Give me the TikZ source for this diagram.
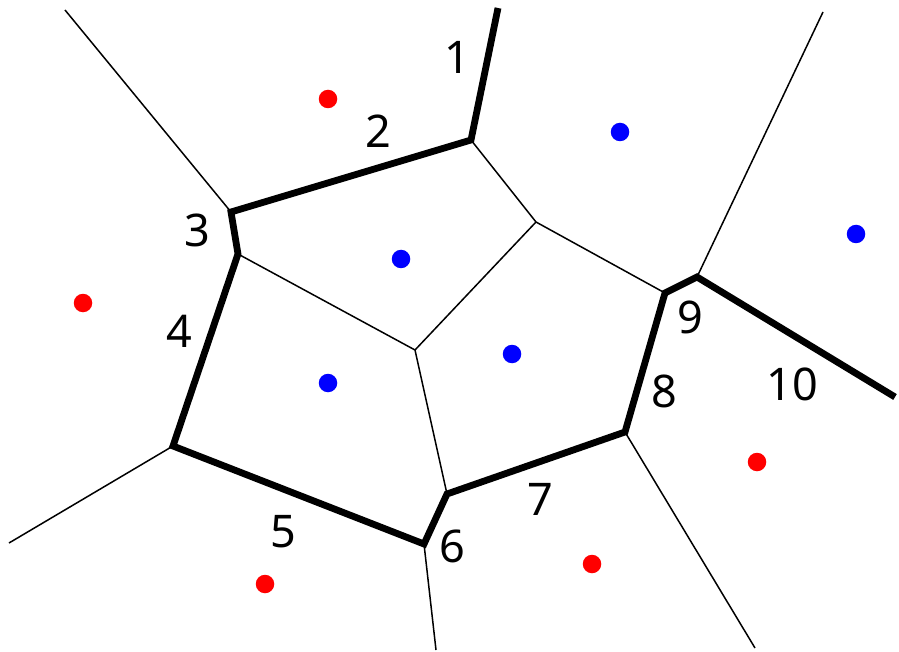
\documentclass[tikz,border=0pt]{standalone}
\usepackage{fontspec}
\setmainfont{Noto Sans}
\begin{document}
\begin{tikzpicture}[x=1pt,y=-1pt,
  thick edge/.style={line width=6.8pt,line join=miter,line cap=butt},
  thin edge/.style={line width=1.5pt},
  lab/.style={anchor=base,inner sep=0pt,font=\fontsize{45}{45}\selectfont},
  reddot/.style={circle,fill=red,inner sep=0pt,minimum size=18.5pt},
  bluedot/.style={circle,fill=blue,inner sep=0pt,minimum size=18.5pt}]
\useasboundingbox (0,0) rectangle (899,652);
% vertices
\coordinate (A) at (498,8);
\coordinate (B) at (471,140);
\coordinate (C) at (231,212);
\coordinate (D) at (238,254);
\coordinate (E) at (173,446);
\coordinate (F) at (424,544);
\coordinate (G) at (447,494);
\coordinate (H) at (625,432);
\coordinate (I) at (665,293);
\coordinate (J) at (697,277);
\coordinate (K) at (895,397);
\coordinate (P) at (536,222);
\coordinate (Q) at (415,350);
\coordinate (tl) at (65,10);
\coordinate (bl) at (9,543);
\coordinate (bm) at (436,650);
\coordinate (br) at (755,648);
\coordinate (tr) at (823,12);
% thin edges
\draw[thin edge] (C) -- (tl);
\draw[thin edge] (B) -- (P) -- (I);
\draw[thin edge] (P) -- (Q);
\draw[thin edge] (D) -- (Q) -- (G);
\draw[thin edge] (E) -- (bl);
\draw[thin edge] (F) -- (bm);
\draw[thin edge] (H) -- (br);
\draw[thin edge] (J) -- (tr);
% thick chain
\draw[thick edge] (A) -- (B) -- (C) -- (D) -- (E) -- (F) -- (G) -- (H) -- (I) -- (J) -- (K);
% dots
\node[reddot] (r1) at (328,99) {};
\node[reddot] (r2) at (83,303) {};
\node[reddot] (r3) at (265,584) {};
\node[reddot] (r4) at (592,564) {};
\node[reddot] (r5) at (757,462) {};
\node[bluedot] (b1) at (620,132) {};
\node[bluedot] (b2) at (401,259) {};
\node[bluedot] (b3) at (856,234) {};
\node[bluedot] (b4) at (512,354) {};
\node[bluedot] (b5) at (328,383) {};
% labels
\node[lab] (l1) at (457,74) {1};
\node[lab] (l2) at (378,148) {2};
\node[lab] (l3) at (197,247) {3};
\node[lab] (l4) at (179,347) {4};
\node[lab] (l5) at (283,547) {5};
\node[lab] (l6) at (452,562) {6};
\node[lab] (l7) at (540,515) {7};
\node[lab] (l8) at (664,407) {8};
\node[lab] (l9) at (690,333) {9};
\node[lab] (l10) at (792,400) {10};
\end{tikzpicture}
\end{document}
